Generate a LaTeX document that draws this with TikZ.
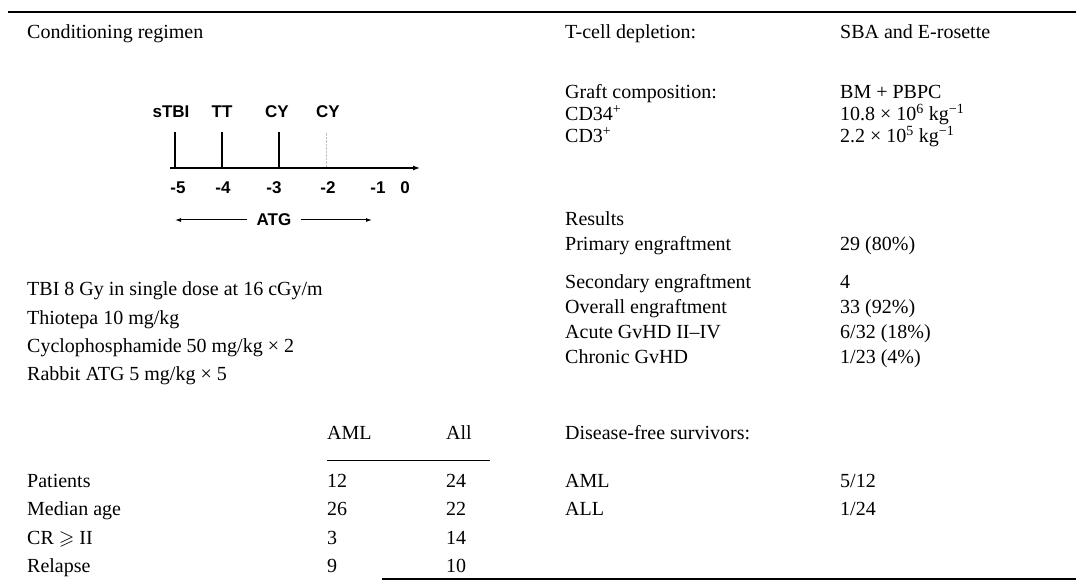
\documentclass[tikz,border=0pt]{standalone}
\usepackage{amssymb}
\usepackage{fontspec}
\setmainfont{Liberation Serif}
\newfontfamily\labelsans{Liberation Sans}
\usetikzlibrary{positioning,calc,arrows.meta}
\newcommand{\tabfont}{\fontsize{20}{24}\selectfont}
\newcommand{\axisfont}{\labelsans\bfseries\fontsize{17}{20}\selectfont}

\begin{document}
\begin{tikzpicture}[x=1pt,y=-1pt]
  \useasboundingbox (0,0) rectangle (1076,585);
  \coordinate(lcol)   at (27,0);
  \coordinate(rcol)   at (565,0);
  \coordinate(vcol)   at (840,0);
  \coordinate(amlcol) at (327,0);
  \coordinate(allcol) at (446,0);
  % table rules
  \coordinate(top-l) at (8,12);
  \coordinate(top-r) at (1076,12);
  \coordinate(bot-l) at (382,579);
  \coordinate(bot-r) at (1076,579);
  \draw[line width=1.8pt] (top-l) -- (top-r);
  \draw[line width=1.8pt] (bot-l) -- (bot-r);
  \begin{scope}[
    every node/.style={
      anchor=base west,
      inner sep=0pt,
      font=\tabfont,
    },
    ]
    % left column
    \path (lcol |- 0,39) node(cond){Conditioning regimen}
    (lcol |- 0,296) node(tbi){TBI 8 Gy in single dose at 16 cGy/m}
    ++(0,28) node(thio){Thiotepa 10 mg/kg}
    ++(0,28) node(cyclo){Cyclophosphamide 50 mg/kg × 2}
    ++(0,28) node(rabbit){Rabbit ATG 5 mg/kg × 5};
    \path (lcol |- 0,487) node(patients){Patients}
    ++(0,28) node(median){Median age}
    ++(0,29) node(cr){CR $\geqslant$ II}
    ++(0,28) node(relapse){Relapse};
    \node (hd-aml) at (amlcol |- 0,439) {AML};
    \node (hd-all) at (allcol |- 0,439) {All};
    \node (pat-aml) at (patients.base -| amlcol) {12};
    \node (pat-all) at (patients.base -| allcol) {24};
    \node (med-aml) at (median.base -| amlcol)   {26};
    \node (med-all) at (median.base -| allcol)   {22};
    \node (cr-aml)  at (cr.base -| amlcol)       {3};
    \node (cr-all)  at (cr.base -| allcol)       {14};
    \node (rel-aml) at (relapse.base -| amlcol)  {9};
    \node (rel-all) at (relapse.base -| allcol)  {10};
    % right column
    \path (rcol |- 0,39) node(tcell){T-cell depletion:}
    ++(0,60) node(graft){Graft composition:}
    ++(0,22) node(cd34){CD34\textsuperscript{+}}
    ++(0,22) node(cd3){CD3\textsuperscript{+}}
    ++(0,83) node(results){Results}
    ++(0,25) node(primary){Primary engraftment}
    ++(0,38) node(secondary){Secondary engraftment}
    ++(0,24) node(overall){Overall engraftment}
    ++(0,25) node(acute){Acute GvHD II–IV}
    ++(0,25) node(chronic){Chronic GvHD}
    ++(0,76) node(dfs){Disease-free survivors:}
    ++(0,48) node(dfs-aml){AML}
    ++(0,28) node(dfs-all){ALL};
    \node (tcell-val)   at (tcell.base -| vcol)     {SBA and E-rosette};
    \node (graft-val)   at (graft.base -| vcol)     {BM + PBPC};
    \node (cd34-val)    at (cd34.base -| vcol)      {10.8 × 10\textsuperscript{6} kg\textsuperscript{−1}};
    \node (cd3-val)     at (cd3.base -| vcol)       {2.2 × 10\textsuperscript{5} kg\textsuperscript{−1}};
    \node (primary-val) at (primary.base -| vcol)   {29 (80\%)};
    \node (second-val)  at (secondary.base -| vcol) {4};
    \node (overall-val) at (overall.base -| vcol)   {33 (92\%)};
    \node (acute-val)   at (acute.base -| vcol)     {6/32 (18\%)};
    \node (chronic-val) at (chronic.base -| vcol)   {1/23 (4\%)};
    \node (dfs-aml-val) at (dfs-aml.base -| vcol)   {5/12};
    \node (dfs-all-val) at (dfs-all.base -| vcol)   {1/24};
  \end{scope}
  \coordinate(hd-rule-l) at (amlcol |- 0,460);
  \coordinate(hd-rule-r) at (490,460);
  \draw[line width=0.9pt] (hd-rule-l) -- (hd-rule-r);
  % timeline
  \coordinate(ax-start) at (170,168);
  \coordinate(ax-end)   at (420,168);
  \coordinate(d5) at (175,168);
  \coordinate(d4) at (222,168);
  \coordinate(d3) at (279,168);
  \coordinate(d2) at (326,168);
  \coordinate(d1) at (378,168);
  \coordinate(d0) at (405,168);
  \begin{scope}[
    every node/.style={inner sep=0pt,font=\axisfont},
    ]
    \node (stbi) at ($(d5)+(-4,-56)$) {sTBI};
    \node (tt)   at ($(d4)+(0,-56)$)  {TT};
    \node (cy1)  at ($(d3)+(-2,-56)$) {CY};
    \node (cy2)  at ($(d2)+(2,-56)$)  {CY};
    \node (n5) at ($(d5)+(3,20)$) {-5};
    \node (n4) at ($(d4)+(1,20)$) {-4};
    \node (n3) at ($(d3)+(-5,20)$) {-3};
    \node (n2) at ($(d2)+(2,20)$) {-2};
    \node (n1) at ($(d1)+(0,20)$) {-1};
    \node (n0) at ($(d0)+(0,20)$) {0};
    \node (atg) at (274,220) {ATG};
  \end{scope}
  \draw[line width=1.3pt] (d5) -- ++(0,-36);
  \draw[line width=1.3pt] (d4) -- ++(0,-36);
  \draw[line width=1.3pt] (d3) -- ++(0,-36);
  \draw[densely dotted,gray!50] (d2) -- ++(0,-36);
  \draw[line width=1.3pt,-{Latex[length=7pt,width=5pt]}] (ax-start) -- (ax-end);
  \coordinate(atg-l) at (175,220);
  \coordinate(atg-r) at (372,220);
  \draw[line width=1pt,-{Latex[length=6pt,width=4pt]}] ([xshift=-9pt]atg.west) -- (atg-l);
  \draw[line width=1pt,-{Latex[length=6pt,width=4pt]}] ([xshift=9pt]atg.east) -- (atg-r);
\end{tikzpicture}
\end{document}
